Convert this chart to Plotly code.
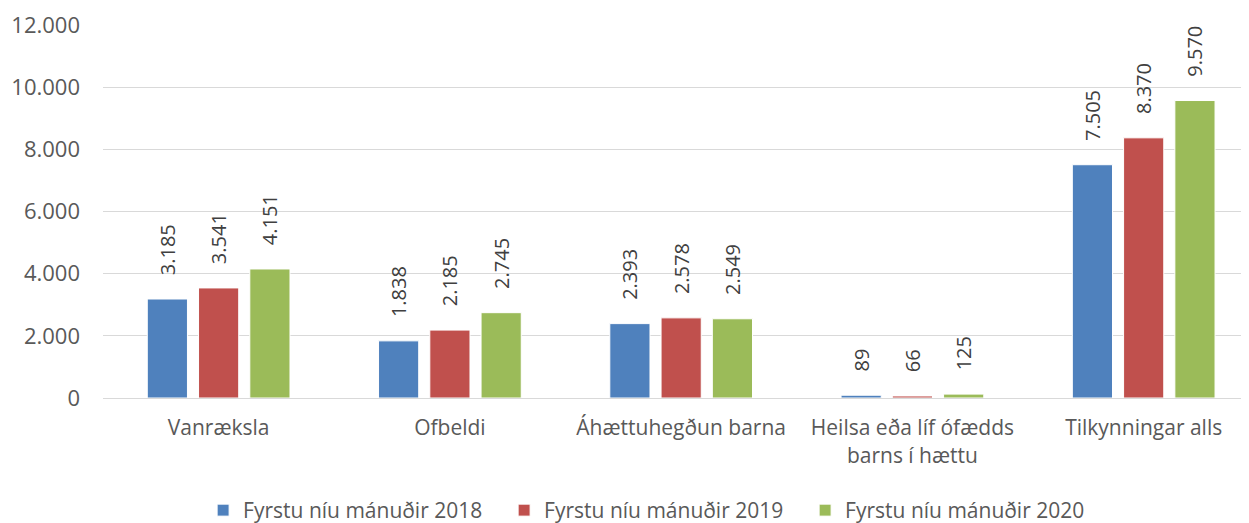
import plotly.graph_objects as go

categories = ["Vanræksla", "Ofbeldi", "Áhættuhegðun barna",
              "Heilsa eða líf ófædds<br>barns í hættu", "Tilkynningar alls"]
series_names = ["Fyrstu níu mánuðir 2018", "Fyrstu níu mánuðir 2019", "Fyrstu níu mánuðir 2020"]
values_2018 = [3185, 1838, 2393, 89, 7505]
values_2019 = [3541, 2185, 2578, 66, 8370]
values_2020 = [4151, 2745, 2549, 125, 9570]
colors = ["#4F81BD", "#C0504D", "#9BBB59"]
y_ticks = [0, 2000, 4000, 6000, 8000, 10000, 12000]

FONT = "Open Sans"
fig = go.Figure()
for name, vals, col in zip(series_names, [values_2018, values_2019, values_2020], colors):
    fig.add_trace(go.Bar(
        x=categories, y=vals, name=name,
        marker=dict(color=col, line=dict(color="white", width=1)),
        texttemplate="\u00a0\u00a0\u00a0\u00a0%{y:,}",
        textposition="outside", textangle=-90,
        textfont=dict(family=FONT, size=20, color="#404040"),
        cliponaxis=False, constraintext="none",
    ))

fig.update_layout(
    width=1249, height=523,
    margin=dict(l=95, r=0, t=17, b=132),
    paper_bgcolor="white", plot_bgcolor="white",
    separators=",.",
    barmode="group", bargap=0.335, bargroupgap=0.216,
    font=dict(family=FONT, size=21, color="#595959"),
    legend=dict(orientation="h", x=0.478, xanchor="center",
                y=-0.30, yanchor="middle",
                font=dict(family=FONT, size=21, color="#595959"),
                itemwidth=30, entrywidth=256, entrywidthmode="pixels",
                traceorder="normal"),
    showlegend=True,
)
fig.update_xaxes(range=[-0.5, 4.49], showgrid=False, showline=True,
                 linecolor="#D9D9D9", linewidth=1, ticks="", tickangle=0,
                 automargin=False, ticklabelstandoff=11,
                 tickfont=dict(family=FONT, size=21, color="#595959"))
fig.update_yaxes(range=[0, 12000], tickvals=y_ticks, tickformat=",d",
                 showgrid=True, gridcolor="#D9D9D9", gridwidth=1,
                 zeroline=True, zerolinecolor="#D9D9D9", zerolinewidth=1,
                 automargin=False, ticklabelstandoff=22, ticks="",
                 tickfont=dict(family=FONT, size=22, color="#595959"))

fig.write_html("out.html")
